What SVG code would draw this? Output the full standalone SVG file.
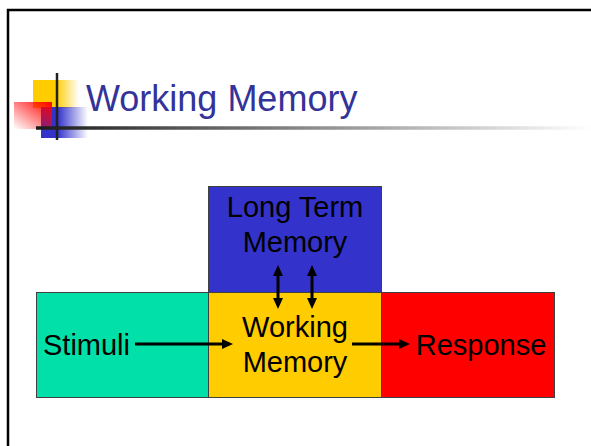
<svg xmlns="http://www.w3.org/2000/svg" width="591" height="446" viewBox="0 0 591 446">
<style>
.lbl{font-family:"Liberation Sans",Arial,sans-serif;font-size:29px;fill:#000;text-anchor:middle}
.box{stroke:#404040;stroke-width:1}
.conn{stroke:#000;stroke-width:3;fill:none}
.title{font-family:"Liberation Sans",Arial,sans-serif;font-size:36px;fill:#333399}
</style>
<defs>
<marker id="ah" viewBox="0 0 11 10" refX="7" refY="5" markerWidth="11" markerHeight="10" markerUnits="userSpaceOnUse" orient="auto-start-reverse">
<path d="M0,0 L11,5 L0,10 z" fill="#000"/>
</marker>
<linearGradient id="gy" x1="0" y1="0" x2="1" y2="0">
<stop offset="0.5" stop-color="#FFCC00"/>
<stop offset="1" stop-color="#FFCC00" stop-opacity="0"/>
</linearGradient>
<linearGradient id="gb" x1="0" y1="0" x2="1" y2="0">
<stop offset="0.35" stop-color="#3333CC"/>
<stop offset="1" stop-color="#3333CC" stop-opacity="0"/>
</linearGradient>
<linearGradient id="gr" x1="1" y1="0" x2="0" y2="1">
<stop offset="0" stop-color="#FF0000"/>
<stop offset="1" stop-color="#FF0000" stop-opacity="0"/>
</linearGradient>
<linearGradient id="gl" gradientUnits="userSpaceOnUse" x1="36" y1="0" x2="591" y2="0">
<stop offset="0" stop-color="#1a1a1a"/>
<stop offset="1" stop-color="#ffffff"/>
</linearGradient>
</defs>
<rect width="591" height="446" fill="#fff"/>
<path d="M8,446 V10 H591" fill="none" stroke="#000" stroke-width="2.5"/>
<g id="title-decoration">
<rect x="33" y="80" width="46" height="28" fill="url(#gy)"/>
<rect x="41" y="107" width="47" height="31" fill="url(#gb)"/>
<rect x="14" y="102" width="38" height="27" fill="url(#gr)"/>
<rect x="36" y="126.25" width="555" height="3.5" fill="url(#gl)"/>
<line x1="57" y1="73" x2="57" y2="140" stroke="#222" stroke-width="2.5"/>
</g>
<text class="title" x="86" y="111">Working Memory</text>
<g id="stimuli">
<rect class="box" x="36.5" y="292.5" width="172" height="105" fill="#00E0A8"/>
<text class="lbl" x="86.5" y="355">Stimuli</text>
</g>
<g id="working-memory">
<rect class="box" x="208.5" y="292.5" width="173" height="105" fill="#FFCC00"/>
<text class="lbl" x="295" y="337">Working</text>
<text class="lbl" x="295" y="372">Memory</text>
</g>
<g id="response">
<rect class="box" x="381.5" y="292.5" width="173" height="105" fill="#FF0000"/>
<text class="lbl" x="481" y="355">Response</text>
</g>
<g id="long-term-memory">
<rect class="box" x="208.5" y="186.5" width="173" height="106" fill="#3333CC"/>
<text class="lbl" x="295" y="217">Long Term</text>
<text class="lbl" x="295" y="252">Memory</text>
</g>
<g id="connectors">
<line class="conn" x1="135" y1="344" x2="229" y2="344" marker-end="url(#ah)"/>
<line class="conn" x1="352" y1="344" x2="406" y2="344" marker-end="url(#ah)"/>
<line class="conn" x1="278" y1="269" x2="278" y2="305" marker-start="url(#ah)" marker-end="url(#ah)"/>
<line class="conn" x1="312" y1="269" x2="312" y2="305" marker-start="url(#ah)" marker-end="url(#ah)"/>
</g>
</svg>
